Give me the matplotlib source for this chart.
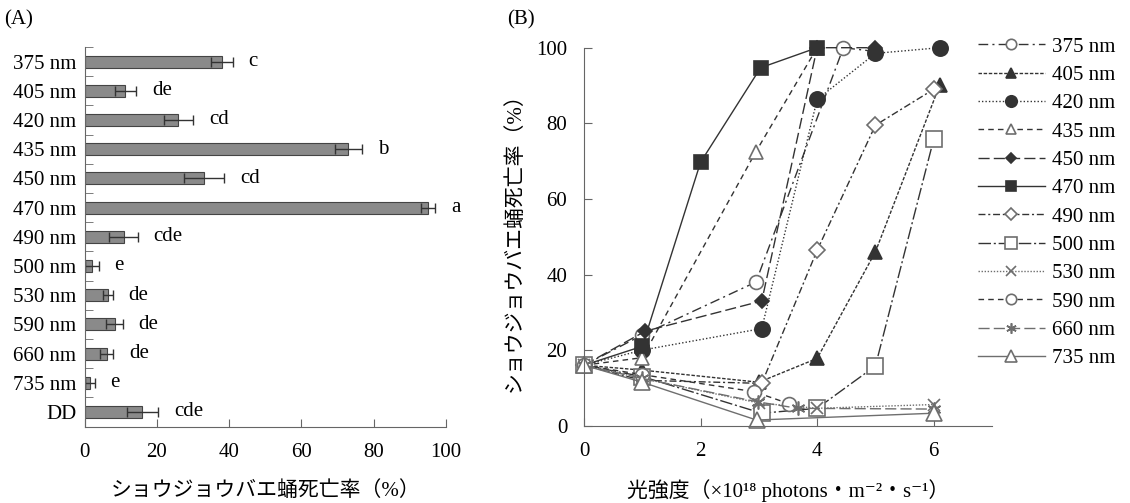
import matplotlib
matplotlib.use("Agg")
import matplotlib.pyplot as plt
from matplotlib.ticker import FixedLocator

plt.rcParams['font.family'] = ['Liberation Serif', 'Noto Sans CJK JP', 'DejaVu Sans']

# ---------------- data: panel A ----------------
categories = ["375 nm", "405 nm", "420 nm", "435 nm", "450 nm", "470 nm", "490 nm",
              "500 nm", "530 nm", "590 nm", "660 nm", "735 nm", "DD"]
mortality = [38, 11.3, 26, 73, 33, 95, 10.8, 2.0, 6.4, 8.3, 6.2, 1.4, 16]
mortality_err = [3, 3, 4.1, 3.7, 5.6, 2, 3.9, 1.9, 1.4, 2.3, 1.8, 1.4, 4.3]
letters = ["c", "de", "cd", "b", "cd", "a", "cde", "e", "de", "de", "de", "e", "cde"]

# ---------------- data: panel B ----------------
series_labels = ["375 nm", "405 nm", "420 nm", "435 nm", "450 nm", "470 nm",
                 "490 nm", "500 nm", "530 nm", "590 nm", "660 nm", "735 nm"]
x375 = [0, 1, 2.95, 4.45, 5.0];            y375 = [16, 24, 38, 100, 99]
x405 = [0, 1, 3.0, 4.0, 5.0, 6.1];         y405 = [16, 14.7, 11.5, 17.8, 46, 90]
x420 = [0, 1, 3.05, 4.0, 5.0, 6.1];        y420 = [16, 20, 25.7, 86.3, 98.5, 100]
x435 = [0, 1, 2.95, 4.0];                  y435 = [16, 18, 72.5, 100]
x450 = [0, 1.05, 3.05, 4.0, 5.0];          y450 = [16, 25, 33, 100, 100]
x470 = [0, 1, 2, 3.03, 4.0];               y470 = [16, 21, 69.7, 94.7, 100]
x490 = [0, 1, 3.05, 4.0, 5.0, 6.0];        y490 = [16, 12, 11.2, 46.4, 79.5, 89]
x500 = [0, 1, 3.05, 4.0, 5.0, 6.0];        y500 = [16, 13, 3.3, 4.6, 15.8, 75.8]
x530 = [0, 1, 3.0, 4.0, 6.0];              y530 = [16, 12.5, 6, 4.6, 5.6]
x590 = [0, 1, 2.92, 3.52];                 y590 = [16, 13.5, 9, 5.8]
x660 = [0, 1, 2.98, 3.67, 6.0];            y660 = [16, 12.5, 6.3, 4.6, 4.4]
x735 = [0, 1, 2.96, 6.0];                  y735 = [16, 11.5, 1.5, 3.3]
xs = [x375, x405, x420, x435, x450, x470, x490, x500, x530, x590, x660, x735]
ys = [y375, y405, y420, y435, y450, y470, y490, y500, y530, y590, y660, y735]

DARK = '#333333'
MID = '#6e6e6e'
styles = [
    dict(ls=(0, (7, 3, 1.5, 3)), marker='o', mfc='white', mec=MID, ms=10, color=DARK),
    dict(ls=(0, (2.5, 1.2)), marker='^', mfc=DARK, mec=DARK, ms=10, color=DARK),
    dict(ls=(0, (1, 1.5)), marker='o', mfc=DARK, mec=DARK, ms=11, color=DARK),
    dict(ls=(0, (4, 3)), marker='^', mfc='white', mec=MID, ms=10, color=DARK),
    dict(ls=(0, (8, 3)), marker='D', mfc=DARK, mec=DARK, ms=7, color=DARK),
    dict(ls='-', marker='s', mfc=DARK, mec=DARK, ms=10, color=DARK),
    dict(ls=(0, (5, 2, 1.5, 2)), marker='D', mfc='white', mec=MID, ms=8, color=DARK),
    dict(ls=(0, (9, 2, 1.5, 2)), marker='s', mfc='white', mec=MID, ms=11, color=DARK),
    dict(ls=(0, (1, 1.2)), marker='x', mfc=MID, mec=MID, ms=9, color=MID),
    dict(ls=(0, (4, 3)), marker='o', mfc='white', mec=MID, ms=10, color=DARK),
    dict(ls=(0, (8, 3)), marker=(6, 2, 0), mfc=MID, mec=MID, ms=10, color=MID),
    dict(ls='-', marker='^', mfc='white', mec=MID, ms=11, color=MID),
]

W, H = 1130, 503
fig = plt.figure(figsize=(W / 100, H / 100), dpi=100)
FS = 15
AXC = '#666666'

def box(l, t, r, b):
    return [l / W, 1 - b / H, (r - l) / W, (b - t) / H]

# ---------------- panel A ----------------
axA = fig.add_axes(box(84.5, 47, 446, 426.5))
pos = list(range(len(categories)))
axA.barh(pos, mortality, height=0.41, color='#8a8a8a', edgecolor='#444444', linewidth=0.8)
axA.errorbar(mortality, pos, xerr=mortality_err, fmt='none', ecolor='#333333',
             elinewidth=1.0, capsize=3.6, capthick=1.0)
for p, m, e, t in zip(pos, mortality, mortality_err, letters):
    axA.text(m + e + 4.4, p, t, fontsize=FS, va='center', ha='left')
axA.set_xlim(0, 100)
axA.set_ylim(len(categories) - 0.5, -0.5)
axA.set_yticks(pos)
axA.set_yticklabels(categories, fontsize=FS)
axA.yaxis.set_minor_locator(FixedLocator([i - 0.5 for i in range(len(categories) + 1)]))
axA.tick_params(axis='y', which='major', length=0, pad=6)
axA.tick_params(axis='y', which='minor', direction='in', length=6, color=AXC)
axA.set_xticks([0, 20, 40, 60, 80, 100])
axA.tick_params(axis='x', direction='in', length=6, color=AXC, labelsize=FS, pad=12)
for s in ['top', 'right']:
    axA.spines[s].set_visible(False)
for s in ['left', 'bottom']:
    axA.spines[s].set_color(AXC)
axA.set_xlabel("ショウジョウバエ蛹死亡率（%）", fontsize=FS, va='center')
axA.xaxis.set_label_coords(0.5, (426.5 - 491) / (426.5 - 47))

# ---------------- panel B ----------------
axB = fig.add_axes(box(584, 47.7, 992, 425.7))
handles = []
for x, y, st, lab in zip(xs, ys, styles, series_labels):
    h, = axB.plot(x, y, linestyle=st['ls'], color=st['color'], lw=1.0,
                  marker=st['marker'], markerfacecolor=st['mfc'], markeredgecolor=st['mec'],
                  markeredgewidth=1.2, markersize=st['ms'], label=lab, clip_on=False)
    handles.append(h)
axB.set_xlim(0, 7)
axB.set_ylim(0, 100)
axB.set_xticks([0, 2, 4, 6])
axB.set_yticks([0, 20, 40, 60, 80, 100])
axB.tick_params(direction='in', length=6, color=AXC, labelsize=FS)
axB.tick_params(axis='x', pad=12)
axB.tick_params(axis='y', pad=12)
for s in ['top', 'right']:
    axB.spines[s].set_visible(False)
for s in ['left', 'bottom']:
    axB.spines[s].set_color(AXC)
axB.set_xlabel("光強度（×10¹⁸ photons・m⁻²・s⁻¹）", fontsize=FS, va='center')
axB.xaxis.set_label_coords(0.5, (425.7 - 491) / (425.7 - 47.7))
axB.set_ylabel("ショウジョウバエ蛹死亡率（%）", fontsize=FS, labelpad=8)

fig.legend(handles=handles, labels=series_labels, loc='upper left',
           bbox_to_anchor=(978 / W, 1 - 37 / H), bbox_transform=fig.transFigure,
           frameon=False, fontsize=FS, handlelength=3.2, handletextpad=0.35,
           labelspacing=0.42, borderpad=0, borderaxespad=0, markerscale=0.75)

fig.text(4 / W, 1 - 20 / H, "(A)", fontsize=FS, va='center', ha='left')
fig.text(507 / W, 1 - 20 / H, "(B)", fontsize=FS, va='center', ha='left')

fig.savefig("out.png", dpi=100)
